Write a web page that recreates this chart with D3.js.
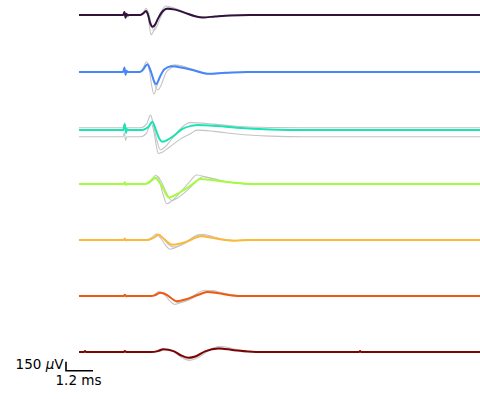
<!DOCTYPE html>
<html>
<head>
<meta charset="utf-8">
<script src="https://cdn.jsdelivr.net/npm/d3@7"></script>
<style>
  body { margin: 0; background: #fff; }
  text { font-family: "DejaVu Sans", sans-serif; }
</style>
</head>
<body>
<div id="chart-area"></div>
<script>
// Spike waveforms on 7 channels: grey single spikes + coloured mean.
// Time in ms from the start of the snippet, amplitude in microvolts.

var channelColors = ["#30123b", "#4686fb", "#1ae4b6", "#a4fc3c", "#fbb938", "#ef5a11", "#7a0403"];
// small DC drift of each channel relative to the grid
var channelDrift = [0, -13, -45, -8, -5, -3, 0];

var ch1Mean = [[0,0],[1.96,0],[2.02,50],[2.07,-45],[2.11,20],[2.16,-10],[2.22,0],[2.7,0],[2.85,25],[2.98,65],[3.07,0],[3.16,-130],[3.27,-195],[3.38,-160],[3.51,-60],[3.69,50],[3.91,105],[4.27,90],[4.71,35],[5.16,-20],[5.51,-40],[6.04,-25],[6.71,-8],[7.6,0],[17.82,0]];
var ch1Trial1 = [[0,0],[2.7,0],[2.85,40],[2.98,110],[3.07,20],[3.13,-180],[3.2,-330],[3.33,-250],[3.51,-60],[3.69,80],[3.87,150],[4.27,110],[4.71,40],[5.16,-25],[5.6,-45],[6.1,-25],[6.8,-8],[7.7,0],[17.82,0]];
var ch1Trial2 = [[0,0],[2.75,0],[2.9,30],[3.02,80],[3.12,0],[3.22,-170],[3.33,-260],[3.45,-200],[3.6,-60],[3.8,80],[4.0,130],[4.35,100],[4.8,35],[5.2,-20],[5.5,-35],[6.1,-20],[6.8,-5],[7.7,0],[17.82,0]];

var ch2Mean = [[0,0],[1.96,0],[2.02,75],[2.07,-50],[2.11,20],[2.16,0],[2.7,0],[2.8,20],[3.04,125],[3.2,0],[3.33,-150],[3.42,-205],[3.6,-80],[3.78,40],[4.12,95],[4.6,70],[5.16,20],[5.7,-30],[6.5,-15],[7.5,0],[17.82,0]];
var ch2Trial1 = [[0,0],[2.7,0],[2.82,40],[3.0,170],[3.13,20],[3.24,-250],[3.33,-370],[3.45,-250],[3.65,-40],[3.9,70],[4.27,120],[4.7,80],[5.2,20],[5.8,-35],[6.6,-15],[7.6,0],[17.82,0]];
var ch2Trial2 = [[0,0],[2.75,0],[2.88,40],[3.07,140],[3.2,10],[3.35,-200],[3.51,-300],[3.65,-220],[3.85,-20],[4.1,70],[4.4,110],[4.8,75],[5.3,15],[5.8,-30],[6.6,-12],[7.6,0],[17.82,0]];

var ch3Mean = [[0,0],[1.96,0],[2.04,95],[2.09,-50],[2.13,15],[2.2,0],[2.8,0],[2.95,20],[3.1,60],[3.26,140],[3.4,20],[3.55,-130],[3.71,-195],[3.9,-170],[4.2,-100],[4.6,20],[5.0,70],[5.3,85],[6.0,70],[7.0,40],[8.5,10],[10,0],[17.82,0]];
var ch3Trial1 = [[0,38],[1.96,38],[2.02,118],[2.07,-12],[2.12,38],[2.75,38],[3.0,98],[3.18,248],[3.3,98],[3.45,-162],[3.62,-332],[3.8,-292],[4.1,-162],[4.5,18],[4.93,123],[6.0,98],[7.0,63],[8.5,43],[10,38],[17.82,38]];
var ch3Trial2 = [[0,-112],[1.96,-112],[2.02,-52],[2.07,-172],[2.12,-112],[2.75,-112],[3.0,-52],[3.2,128],[3.33,-32],[3.45,-292],[3.52,-392],[3.7,-372],[4.0,-292],[4.5,-152],[5.0,-52],[5.23,-2],[6.0,-22],[7.0,-67],[8.5,-102],[10,-112],[17.82,-112]];

var ch4Mean = [[0,0],[1.98,0],[2.04,30],[2.09,-15],[2.15,0],[2.9,0],[3.05,15],[3.2,55],[3.36,110],[3.55,40],[3.75,-80],[3.9,-190],[4.0,-225],[4.3,-180],[4.7,-90],[5.1,10],[5.38,85],[5.8,70],[6.3,45],[6.9,20],[7.4,5],[7.9,0],[17.82,0]];
var ch4Trial1 = [[0,0],[2.9,0],[3.1,30],[3.25,80],[3.42,150],[3.58,40],[3.72,-150],[3.9,-330],[4.1,-290],[4.5,-140],[4.9,30],[5.23,150],[5.7,110],[6.3,50],[7.0,15],[7.8,0],[17.82,0]];
var ch4Trial2 = [[0,0],[2.95,0],[3.15,25],[3.3,70],[3.5,120],[3.68,20],[3.9,-160],[4.12,-275],[4.4,-230],[4.8,-110],[5.15,20],[5.5,120],[5.9,95],[6.5,40],[7.2,10],[7.9,0],[17.82,0]];

var ch5Mean = [[0,0],[1.98,0],[2.04,25],[2.09,-10],[2.15,0],[3.0,0],[3.2,15],[3.35,45],[3.5,90],[3.8,10],[4.0,-55],[4.15,-80],[4.5,-60],[4.9,-10],[5.2,40],[5.45,60],[5.9,35],[6.4,5],[6.93,-12],[7.6,0],[17.82,0]];
var ch5Trial1 = [[0,0],[3.0,0],[3.15,20],[3.28,55],[3.42,100],[3.65,20],[3.85,-90],[4.04,-155],[4.4,-110],[4.8,-20],[5.15,60],[5.5,95],[6.0,50],[6.5,5],[7.0,-10],[7.6,0],[17.82,0]];
var ch5Trial2 = [[0,0],[3.05,0],[3.25,20],[3.4,50],[3.55,80],[3.78,10],[4.0,-80],[4.2,-120],[4.55,-85],[4.9,-15],[5.1,45],[5.3,85],[5.8,50],[6.4,8],[6.9,-10],[7.6,0],[17.82,0]];

var ch6Mean = [[0,0],[1.98,0],[2.04,20],[2.1,-5],[2.16,0],[3.2,0],[3.35,10],[3.6,55],[3.9,20],[4.15,-50],[4.35,-88],[4.8,-50],[5.3,20],[5.7,68],[6.2,45],[6.8,10],[7.3,0],[17.82,0]];
var ch6Trial1 = [[0,0],[3.2,0],[3.35,20],[3.55,75],[3.8,25],[4.05,-90],[4.25,-140],[4.6,-90],[5.1,10],[5.6,95],[6.1,60],[6.7,15],[7.3,0],[17.82,0]];
var ch6Trial2 = [[0,0],[3.25,0],[3.45,15],[3.7,60],[3.95,15],[4.2,-70],[4.45,-115],[4.8,-80],[5.3,15],[5.9,90],[6.4,50],[7.0,10],[7.5,0],[17.82,0]];

var ch7Mean = [[0,0],[0.22,0],[0.27,15],[0.32,0],[1.98,0],[2.04,15],[2.1,0],[3.2,0],[3.5,15],[3.75,45],[4.2,15],[4.5,-50],[4.86,-95],[5.2,-70],[5.6,10],[6.2,57],[6.8,35],[7.5,10],[8.2,0],[12.44,0],[12.49,15],[12.54,0],[17.82,0]];
var ch7Trial1 = [[0,0],[3.2,0],[3.45,20],[3.7,50],[4.15,15],[4.5,-75],[4.9,-140],[5.3,-90],[5.8,30],[6.3,95],[6.9,50],[7.6,10],[8.3,0],[17.82,0]];
var ch7Trial2 = [[0,0],[3.3,0],[3.6,15],[3.85,40],[4.25,5],[4.55,-80],[4.8,-120],[5.2,-70],[5.7,20],[6.1,80],[6.8,40],[7.5,8],[8.2,0],[17.82,0]];

var meanTraces = [ch1Mean, ch2Mean, ch3Mean, ch4Mean, ch5Mean, ch6Mean, ch7Mean];
var trialTraces = [
    [ch1Trial1, ch1Trial2],
    [ch2Trial1, ch2Trial2],
    [ch3Trial1, ch3Trial2],
    [ch4Trial1, ch4Trial2],
    [ch5Trial1, ch5Trial2],
    [ch6Trial1, ch6Trial2],
    [ch7Trial1, ch7Trial2]
];

var spacingUV = 937;      // vertical offset between channels
var scaleBarUV = 150;
var scaleBarMs = 1.2;

var width = 480, height = 399;

var svg = d3.select("#chart-area").append("svg")
    .attr("width", width)
    .attr("height", height);

// Scales
var x_scale = d3.scaleLinear().domain([0, 17.82]).range([79, 480]);
var y_scale = d3.scaleLinear().domain([0, -6 * spacingUV]).range([15, 352]);

var line = d3.line()
    .curve(d3.curveMonotoneX)
    .x(function(d) { return x_scale(d[0]); });

meanTraces.forEach(function(mean, i) {
    var offset = -i * spacingUV + channelDrift[i];
    line.y(function(d) { return y_scale(d[1] + offset); });

    var g = svg.append("g").attr("class", "channel");

    trialTraces[i].forEach(function(trial) {
        g.append("path")
            .attr("fill", "none")
            .attr("stroke", "#c4c4c4")
            .attr("stroke-width", 1.1)
            .attr("d", line(trial));
    });

    g.append("path")
        .attr("fill", "none")
        .attr("stroke", channelColors[i])
        .attr("stroke-width", 2)
        .attr("stroke-linejoin", "round")
        .attr("d", line(mean));
});

// Scale bar
var barX = 66, barY = 370.7;
var barW = x_scale(scaleBarMs) - x_scale(0);
var barH = y_scale(0) - y_scale(scaleBarUV);

svg.append("path")
    .attr("fill", "none")
    .attr("stroke", "#000")
    .attr("stroke-width", 1.6)
    .attr("d", "M" + barX + "," + (barY - barH) + "V" + barY + "H" + (barX + barW));

var vLabel = svg.append("text")
    .attr("x", barX - 2.5)
    .attr("y", barY - 2.2)
    .attr("text-anchor", "end")
    .attr("font-size", "13.5px")
    .attr("fill", "#000");
vLabel.append("tspan").text(scaleBarUV + " ");
vLabel.append("tspan").attr("font-style", "italic").text("μ");
vLabel.append("tspan").text("V");

svg.append("text")
    .attr("x", barX + barW / 2 - 1)
    .attr("y", 385)
    .attr("text-anchor", "middle")
    .attr("font-size", "13.5px")
    .attr("fill", "#000")
    .text(scaleBarMs + " ms");
</script>
</body>
</html>
